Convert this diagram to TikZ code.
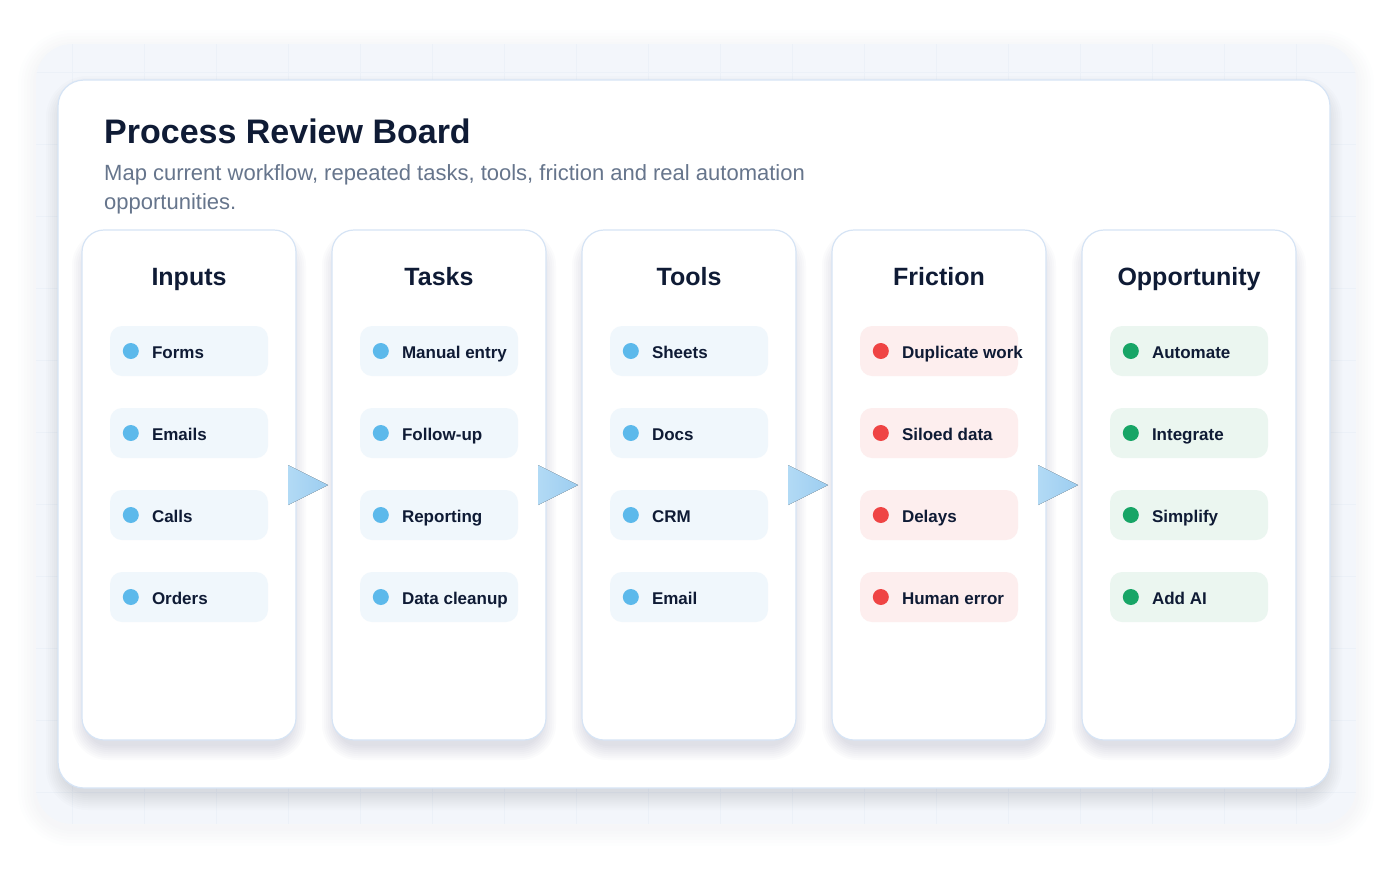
\documentclass[tikz,border=0pt]{standalone}
\usepackage{fontspec}
\setmainfont{Liberation Sans}
\usepackage{tikz}
\usetikzlibrary{positioning, calc}
\definecolor{inkdark}{HTML}{0F1B35}
\definecolor{inkgray}{HTML}{66758C}
\definecolor{bgsoft}{HTML}{F3F6FB}
\definecolor{gridblue}{HTML}{ECF1F8}
\definecolor{edgeblue}{HTML}{D6E4F5}
\definecolor{shadetone}{HTML}{3A4A66}
\definecolor{itemblue}{HTML}{F0F7FC}
\definecolor{itemred}{HTML}{FDEEEE}
\definecolor{itemgreen}{HTML}{EBF6F0}
\definecolor{dotblue}{HTML}{5CB9EB}
\definecolor{dotred}{HTML}{EF4444}
\definecolor{dotgreen}{HTML}{17A566}
\definecolor{flowA}{HTML}{B2DAF5}
\definecolor{flowB}{HTML}{9CCDF0}

\begin{document}
\begin{tikzpicture}[x=1pt, y=-1pt,
    board/.style={draw=edgeblue, line width=1.2pt, fill=white, rounded corners=26pt,
      minimum width=1272pt, minimum height=708pt, inner sep=0pt},
    column/.style={draw=edgeblue, line width=1.2pt, fill=white, rounded corners=22pt,
      minimum width=214pt, minimum height=510pt, inner sep=0pt},
    shade layer/.style={fill=shadetone, fill opacity=#1},
    item/.style={fill=#1, rounded corners=12pt, minimum width=158pt, minimum height=50pt, inner sep=0pt},
    dot/.style={circle, fill=#1, minimum size=16pt, inner sep=0pt},
    itemtext/.style={font=\fontsize{17}{20}\selectfont\bfseries, text=inkdark, anchor=base west, inner sep=0pt},
    header/.style={font=\fontsize{25}{29}\selectfont\bfseries, text=inkdark, anchor=base, inner sep=0pt},
    gridline/.style={draw=gridblue, line width=0.5pt},
    flow/.style={left color=flowA, right color=flowB, draw=none}]
  \useasboundingbox (0,0) rectangle (1388,868);

  % backdrop glow, backdrop and faint grid
  \foreach \s in {1,...,6} {
    \pgfmathsetmacro\rr{36+3*\s}
    \fill[shade layer=0.006, rounded corners=\rr pt] ({36-3*\s},{48-3*\s}) rectangle ({1356+3*\s},{828+3*\s});
  }
  \fill[bgsoft, rounded corners=36pt] (36,44) rectangle (1356,824);
  \begin{scope}
    \clip[rounded corners=36pt] (36,44) rectangle (1356,824);
    \foreach \gx in {72,144,...,1296}
      \draw[gridline] (\gx,44) -- (\gx,824);
    \foreach \gy in {72,144,...,792}
      \draw[gridline] (36,\gy) -- (1356,\gy);
  \end{scope}

  % board with its shadow
  \foreach \s in {0,...,8} {
    \pgfmathsetmacro\rr{26+2*\s}
    \fill[shade layer=0.016, rounded corners=\rr pt] ({58-2*\s+4},{80-2*\s+12}) rectangle ({1330+2*\s-4},{788+2*\s+6});
  }
  \node[board] (boardbox) at (694,434) {};
  \node[anchor=base west, inner sep=0pt, text=inkdark,
        font=\fontsize{34}{40}\selectfont\bfseries] (title) at (104,143) {Process Review Board};
  \node[anchor=north west, align=left, inner sep=0pt, text=inkgray,
        font=\fontsize{22}{29}\selectfont] (subtitle) at (104,164)
    {Map current workflow, repeated tasks, tools, friction and real automation\\opportunities.};

  % columns
  \foreach \i/\name/\head/\bg/\dc/\items in {
      0/inputs/Inputs/itemblue/dotblue/{Forms,Emails,Calls,Orders},
      1/tasks/Tasks/itemblue/dotblue/{Manual entry,Follow-up,Reporting,Data cleanup},
      2/tools/Tools/itemblue/dotblue/{Sheets,Docs,CRM,Email},
      3/friction/Friction/itemred/dotred/{Duplicate work,Siloed data,Delays,Human error},
      4/opportunity/Opportunity/itemgreen/dotgreen/{Automate,Integrate,Simplify,Add AI}}{
    \foreach \s in {0,...,7} {
      \pgfmathsetmacro\rr{22+2*\s}
      \fill[shade layer=0.018, rounded corners=\rr pt]
        ({82+250*\i-2*\s+4},{230-2*\s+14}) rectangle ({296+250*\i+2*\s-4},{740+2*\s+6});
    }
    \node[column] (\name) at ({189+250*\i},485) {};
    \node[header] (\name-head) at ({189+250*\i},285) {\head};
    \foreach \txt [count=\j] in \items {
      \node[item=\bg] (\name-\j) at ({189+250*\i},{351+82*(\j-1)}) {};
      \node[dot=\dc] (\name-dot\j) at ($(\name-\j.west)+(21,0)$) {};
      \node[itemtext] (\name-txt\j) at ($(\name-\j.west)+(42,7)$) {\txt};
    }
  }

  % flow markers between columns
  \foreach \a/\b in {inputs/tasks, tasks/tools, tools/friction, friction/opportunity}
    \fill[flow] ($(\a.east)!0.5!(\b.west)+(-26,-20)$) -- ($(\a.east)!0.5!(\b.west)+(14,0)$)
      -- ($(\a.east)!0.5!(\b.west)+(-26,20)$) -- cycle;
\end{tikzpicture}
\end{document}
